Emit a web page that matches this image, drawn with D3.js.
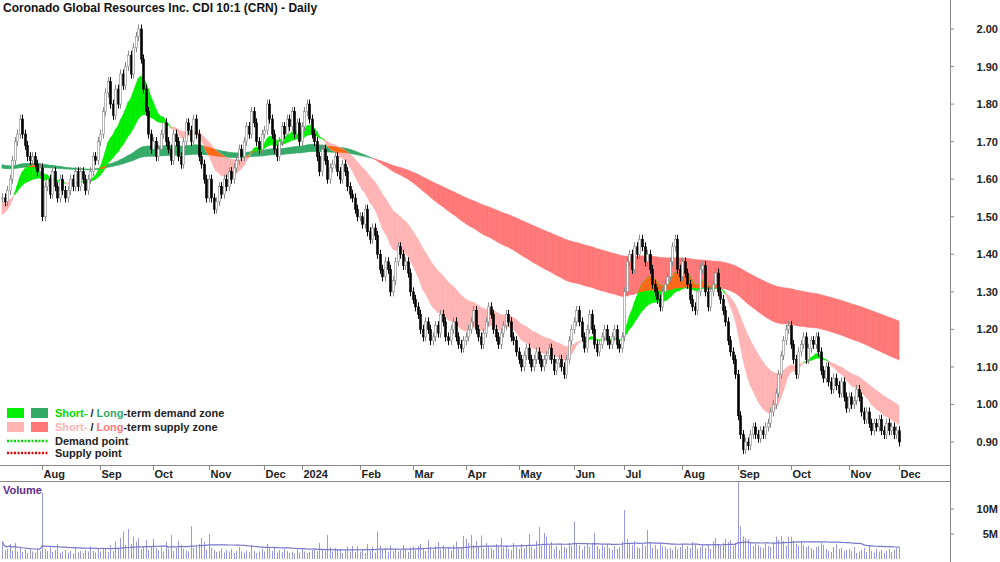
<!DOCTYPE html>
<html><head><meta charset="utf-8">
<script src="https://cdn.jsdelivr.net/npm/d3@7"></script>
<style>body{margin:0;background:#fff}svg{display:block;font-family:Arial,"Liberation Sans",sans-serif}</style>
</head><body><svg id="c" width="1000" height="562"></svg>
<script>
const monthLabels=["","Aug","Sep","Oct","Nov","Dec","2024","Feb","Mar","Apr","May","Jun","Jul","Aug","Sep","Oct","Nov","Dec"];
const m0=[1.55,1.54,1.57,1.60,1.65,1.70,1.72,1.76,1.72,1.69,1.66,1.65,1.66,1.64,1.62,1.63];
const m1=[1.50,1.58,1.60,1.56,1.62,1.58,1.55,1.60,1.57,1.55,1.57,1.60,1.58,1.62,1.58,1.62,1.60,1.57,1.60,1.62,1.66,1.65,1.70];
const m2=[1.72,1.78,1.83,1.86,1.80,1.77,1.84,1.80,1.88,1.85,1.90,1.93,1.88,1.95,1.98,2.00,1.92,1.84,1.78,1.72,1.68];
const m3=[1.70,1.66,1.68,1.72,1.75,1.70,1.68,1.65,1.72,1.70,1.66,1.64,1.70,1.75,1.73,1.70,1.76,1.72,1.66,1.64,1.60,1.55];
const m4=[1.60,1.55,1.52,1.54,1.58,1.56,1.60,1.58,1.62,1.60,1.63,1.65,1.68,1.66,1.70,1.74,1.72,1.78,1.75,1.70,1.68,1.72];
const m5=[1.73,1.80,1.76,1.72,1.68,1.66,1.70,1.74,1.72,1.76,1.74,1.78,1.72,1.75,1.70];
const m6=[1.74,1.78,1.80,1.76,1.72,1.70,1.66,1.62,1.68,1.65,1.60,1.63,1.64,1.66,1.62,1.60,1.64,1.62,1.58,1.56,1.55,1.52,1.50];
const m7=[1.50,1.48,1.52,1.46,1.44,1.47,1.45,1.40,1.36,1.34,1.38,1.36,1.30,1.33,1.38,1.42,1.40,1.37,1.38,1.35,1.30];
const m8=[1.28,1.26,1.24,1.20,1.18,1.22,1.20,1.17,1.18,1.21,1.19,1.24,1.22,1.18,1.17,1.20,1.22,1.18,1.16,1.15,1.17];
const m9=[1.18,1.20,1.22,1.25,1.20,1.18,1.16,1.19,1.22,1.26,1.24,1.20,1.18,1.16,1.19,1.21,1.24,1.22,1.18,1.17,1.14];
const m10=[1.12,1.10,1.13,1.15,1.12,1.10,1.12,1.14,1.12,1.10,1.12,1.13,1.15,1.12,1.09,1.11,1.12,1.10,1.08,1.12,1.17,1.20];
const m11=[1.22,1.25,1.22,1.18,1.15,1.20,1.24,1.20,1.16,1.14,1.16,1.18,1.20,1.17,1.16,1.18,1.20,1.16,1.15,1.18];
const m12=[1.30,1.38,1.40,1.36,1.42,1.40,1.44,1.42,1.38,1.40,1.36,1.32,1.30,1.28,1.26,1.30,1.32,1.34,1.38,1.42,1.44,1.36,1.34];
const m13=[1.38,1.35,1.32,1.28,1.26,1.25,1.30,1.36,1.37,1.30,1.26,1.30,1.32,1.35,1.30,1.28,1.25,1.22,1.17,1.14,1.12,1.08];
const m14=[0.97,0.92,0.88,0.90,0.89,0.92,0.94,0.92,0.91,0.93,0.92,0.94,0.95,0.98,1.00,1.03,1.08,1.13,1.17,1.20,1.21];
const m15=[1.16,1.12,1.08,1.14,1.16,1.18,1.12,1.15,1.17,1.16,1.18,1.14,1.09,1.07,1.10,1.06,1.04,1.07,1.05,1.03,1.06,1.02,0.99];
const m16=[1.02,1.00,1.01,1.04,1.02,0.98,0.96,0.98,0.95,0.93,0.95,0.94,0.96,0.93,0.92,0.95,0.93,0.94,0.92,0.93];
const m17=[0.90];
const months=[m0,m1,m2,m3,m4,m5,m6,m7,m8,m9,m10,m11,m12,m13,m14,m15,m16,m17];
const v0=[3.5,1.8,2.0,3.0,1.6,3.2,1.5,2.2,1.4,1.8,1.2,2.0,1.5,1.3,1.9,1.6];
const v1=[13.2,2.0,1.6,2.6,1.4,1.8,3.0,1.2,1.5,1.8,1.3,1.6,1.1,2.2,1.4,1.6,1.2,1.8,1.5,2.5,1.6,1.3,2.0];
const v2=[1.5,2.2,2.0,1.4,2.8,1.6,3.5,2.1,4.2,5.5,2.8,6.0,3.0,4.5,3.5,4.2,2.0,2.6,3.8,1.8,2.4];
const v3=[4.0,2.2,1.8,2.6,1.5,3.5,2.0,4.8,1.6,2.2,3.6,2.8,2.0,1.7,1.5,6.5,2.2,2.5,3.0,4.2,3.5,1.9];
const v4=[5.0,2.2,1.8,1.4,1.6,2.1,1.3,1.8,1.5,2.0,1.2,1.6,2.4,1.5,1.3,1.7,1.4,2.8,1.6,1.2,1.5,2.0];
const v5=[1.5,3.0,2.2,1.6,2.4,1.3,1.8,1.4,2.0,1.6,1.2,1.5,1.1,1.8,1.3];
const v6=[2.0,1.5,1.2,1.4,1.8,2.0,1.6,3.2,2.0,1.6,4.8,2.4,1.5,2.2,1.8,2.0,1.2,1.7,2.5,1.5,2.6,1.4,2.6];
const v7=[1.5,2.0,1.2,3.0,1.6,2.4,1.3,5.5,2.6,1.8,2.2,1.4,2.7,1.6,2.0,1.5,1.8,2.8,2.0,1.4,2.3];
const v8=[2.5,1.8,2.6,3.0,2.2,1.6,3.8,2.4,1.8,2.6,3.4,1.9,2.8,2.0,2.4,1.7,2.8,3.5,2.2,2.4,4.6];
const v9=[4.0,3.2,4.8,2.8,3.6,2.4,4.7,2.0,3.2,2.5,2.2,1.8,3.0,2.5,4.2,2.3,2.7,2.0,1.8,3.2,2.4];
const v10=[2.0,3.0,2.2,2.8,5.0,2.4,2.0,3.6,6.4,2.6,5.2,4.5,2.8,3.4,2.0,2.6,1.8,3.0,2.4,2.2,3.2,2.6];
const v11=[7.5,3.2,2.8,1.8,2.6,3.0,2.4,3.2,5.2,2.6,2.0,2.8,2.4,3.0,2.2,1.8,2.6,2.0,2.4,3.4];
const v12=[9.8,4.0,3.2,2.8,3.6,2.4,2.2,3.0,2.6,5.8,3.4,2.2,2.8,2.0,3.2,2.6,2.4,2.0,2.2,1.8,2.6,2.0,2.4];
const v13=[3.0,2.0,2.6,2.2,3.4,2.8,2.0,2.4,3.0,2.2,2.6,2.0,3.6,4.2,3.0,2.6,3.2,4.0,3.4,3.8,2.6,3.2];
const v14=[15.5,6.5,4.5,4.2,4.0,3.2,2.6,3.0,2.8,2.4,2.2,3.0,2.6,2.4,3.4,4.5,3.8,4.6,3.6,2.6,4.5];
const v15=[4.5,3.6,3.0,2.6,3.4,2.8,2.4,2.6,2.2,1.8,2.4,2.6,3.2,2.8,2.0,1.6,1.4,2.4,3.0,2.0,2.2,1.6,1.8];
const v16=[2.0,1.6,2.4,1.2,1.5,1.8,2.2,1.4,2.8,1.6,1.3,2.0,1.5,1.8,1.2,1.6,2.0,1.4,1.8,2.2];
const v17=[2.4];
const vols=[v0,v1,v2,v3,v4,v5,v6,v7,v8,v9,v10,v11,v12,v13,v14,v15,v16,v17];
const yTicks=[0.90,1.00,1.10,1.20,1.30,1.40,1.50,1.60,1.70,1.80,1.90,2.00];
const vTicks=[5,10];
const shortSeed=[1.50,1.54];
const longSeed=[1.64,1.63];

const close=months.flat(), vol=vols.flat(), N=close.length;
const monthStart=[];{let k=0;months.forEach(m=>{monthStart.push(k);k+=m.length;});}
const svg=d3.select("#c");
const x=d3.scaleLinear().domain([0,N-1]).range([2,899]);
const y=d3.scaleLinear().domain([0.9,2.0]).range([442,29]);
const yv=d3.scaleLinear().domain([0,10]).range([559,509]);
function ema(arr,n,seed){const a=2/(n+1);let e=seed;return arr.map(v=>e=e+a*(v-e));}
const s1=ema(close,15,shortSeed[0]),s2=ema(close,38,shortSeed[1]);
const l1=ema(close,130,longSeed[0]),l2=ema(close,240,longSeed[1]);
const idx=d3.range(N);
const g=svg.append("g");
function quads(a,b,colFn){
  for(let i=0;i<N-1;i++){
    const p=[[x(i),y(a[i])],[x(i+1),y(a[i+1])],[x(i+1),y(b[i+1])],[x(i),y(b[i])]];
    g.append("path").attr("d","M"+p.join("L")+"Z").attr("fill",colFn(i)).attr("stroke",colFn(i)).attr("stroke-width",0.6);
  }
}
quads(l1,l2,i=>l1[i]>=l2[i]?"#33aa66":"#ff7777");
quads(s1,s2,i=>s1[i]>=s2[i]?"#00ee00":"#ffb4b4");
const area=(a,b)=>d3.area().x(i=>x(i)).y0(i=>y(a[i])).y1(i=>y(b[i]))(idx);
svg.append("clipPath").attr("id","lc").append("path").attr("d",area(l1,l2));
g.append("path").attr("d",area(s1,s2)).attr("fill","#ff6a1a").attr("clip-path","url(#lc)");
const cg=svg.append("g");
idx.forEach(i=>{
  const o=i?close[i-1]:close[i],c=close[i];
  const hi=Math.max(o,c)+0.012,lo=Math.min(o,c)-0.012,up=c>=o;
  const cx=Math.round(x(i))+0.5;
  cg.append("line").attr("x1",cx).attr("x2",cx).attr("y1",y(hi)).attr("y2",y(lo)).attr("stroke",up?"#888":"#000").attr("stroke-width",1);
  const t=y(Math.max(o,c)),b=y(Math.min(o,c));
  cg.append("rect").attr("x",cx-1).attr("y",t).attr("width",2).attr("height",Math.max(1,b-t))
    .attr("fill",up?"#fff":"#000").attr("stroke",up?"#888":"#000").attr("stroke-width",0.6);
});
svg.append("line").attr("x1",950.5).attr("x2",950.5).attr("y1",0).attr("y2",562).attr("stroke","#888");
yTicks.forEach(t=>{
  svg.append("line").attr("x1",950).attr("x2",954).attr("y1",y(t)).attr("y2",y(t)).attr("stroke","#888");
  svg.append("text").attr("x",998).attr("y",y(t)+4).attr("text-anchor","end").attr("font-size",11).attr("font-weight","bold").attr("fill","#222").text(t.toFixed(2));
});
svg.append("line").attr("x1",0).attr("x2",950).attr("y1",465.5).attr("y2",465.5).attr("stroke","#888");
svg.append("line").attr("x1",0).attr("x2",950).attr("y1",481.5).attr("y2",481.5).attr("stroke","#888");
monthStart.forEach((k,j)=>{
  if(!monthLabels[j])return;
  const mx=Math.round(x(k))+0.5;
  svg.append("line").attr("x1",mx).attr("x2",mx).attr("y1",466).attr("y2",470).attr("stroke","#888");
  svg.append("text").attr("x",mx+1).attr("y",478).attr("font-size",11).attr("font-weight","bold").attr("fill","#222").text(monthLabels[j]);
});
svg.append("text").attr("x",3).attr("y",494).attr("font-size",11).attr("font-weight","bold").attr("fill","#5b2c8f").text("Volume");
idx.forEach(i=>{const cx=Math.round(x(i))+0.5;
  svg.append("line").attr("x1",cx).attr("x2",cx).attr("y1",yv(0)).attr("y2",yv(vol[i])).attr("stroke","#9999dd").attr("stroke-width",1);});
const vavg=idx.map(i=>d3.mean(vol.slice(Math.max(0,i-49),i+1)));
svg.append("path").attr("d",d3.line().x(i=>x(i)).y(i=>yv(vavg[i]))(idx)).attr("fill","none").attr("stroke","#7777cc").attr("stroke-width",1.2);
vTicks.forEach(t=>{
  svg.append("line").attr("x1",950).attr("x2",954).attr("y1",yv(t)).attr("y2",yv(t)).attr("stroke","#888");
  svg.append("text").attr("x",998).attr("y",yv(t)+4).attr("text-anchor","end").attr("font-size",11).attr("font-weight","bold").attr("fill","#222").text(t+"M");
});
svg.append("text").attr("x",3).attr("y",12).attr("font-size",12).attr("font-weight","bold").attr("fill","#111").text("Coronado Global Resources Inc. CDI 10:1 (CRN) - Daily");
const L=svg.append("g").attr("font-size",11).attr("font-weight","bold");
L.append("rect").attr("x",7).attr("y",408).attr("width",17).attr("height",10).attr("fill","#00ee00");
L.append("rect").attr("x",31).attr("y",408).attr("width",17).attr("height",10).attr("fill","#33aa66");
L.append("rect").attr("x",7).attr("y",422).attr("width",17).attr("height",10).attr("fill","#ffb4b4");
L.append("rect").attr("x",31).attr("y",422).attr("width",17).attr("height",10).attr("fill","#ff7777");
const t1=L.append("text").attr("x",55).attr("y",417);
t1.append("tspan").attr("fill","#00dd00").text("Short-");t1.append("tspan").attr("fill","#222").text(" / ");
t1.append("tspan").attr("fill","#33aa66").text("Long");t1.append("tspan").attr("fill","#222").text("-term demand zone");
const t2=L.append("text").attr("x",55).attr("y",431);
t2.append("tspan").attr("fill","#ffb4b4").text("Short-");t2.append("tspan").attr("fill","#222").text(" / ");
t2.append("tspan").attr("fill","#ff7777").text("Long");t2.append("tspan").attr("fill","#222").text("-term supply zone");
L.append("line").attr("x1",7).attr("x2",48).attr("y1",441).attr("y2",441).attr("stroke","#00dd00").attr("stroke-width",2.5).attr("stroke-dasharray","2,1.5");
L.append("line").attr("x1",7).attr("x2",48).attr("y1",453).attr("y2",453).attr("stroke","#ee0000").attr("stroke-width",2.5).attr("stroke-dasharray","2,1.5");
L.append("text").attr("x",55).attr("y",445).attr("fill","#222").text("Demand point");
L.append("text").attr("x",55).attr("y",457).attr("fill","#222").text("Supply point");
</script></body></html>
